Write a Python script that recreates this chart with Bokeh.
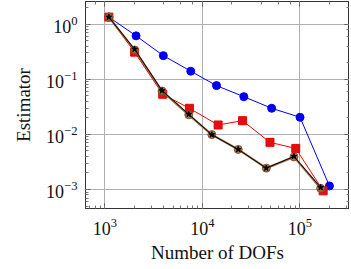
from bokeh.plotting import figure
from bokeh.models import LogAxis, Range1d, LogTicker, CustomJSTickFormatter
from bokeh.embed import file_html
from bokeh.resources import INLINE

# Estimator vs. number of degrees of freedom for four refinement strategies
dofs_uniform = [1100, 2090, 3980, 7600, 13960, 26600, 51300, 100200, 200600]
est_uniform = [1.34, 0.612, 0.268, 0.140, 0.0766, 0.0483, 0.0297, 0.0204, 0.00116]

dofs_adapt_a = [1100, 2020, 3920, 7370, 14500, 25800, 49300, 90600, 173000]
est_adapt_a = [1.34, 0.310, 0.0534, 0.0297, 0.0148, 0.0177, 0.00716, 0.00556, 0.000944]

dofs_adapt_b = [1100, 2020, 3860, 7250, 12500, 23300, 45200, 86900, 163000]
est_adapt_b = [1.34, 0.340, 0.0610, 0.0226, 0.00990, 0.00533, 0.00244, 0.00390, 0.00105]

dofs_adapt_c = [1100, 2020, 3860, 7250, 12500, 23300, 45200, 86900, 163000]
est_adapt_c = [1.34, 0.351, 0.0621, 0.0231, 0.00984, 0.00533, 0.00244, 0.00398, 0.00109]

FONT = "Liberation Serif"

p = figure(frame_width=264, frame_height=207, x_axis_type="log", y_axis_type="log",
           x_range=Range1d(10**2.802, 10**5.508), y_range=Range1d(10**-3.345, 10**0.41),
           output_backend="svg", toolbar_location=None,
           min_border_left=85, min_border_right=0, min_border_top=1, min_border_bottom=61,
           x_axis_label="Number of DOFs", y_axis_label="Estimator")

p.outline_line_color = "#333333"
p.outline_line_width = 1
p.background_fill_color = "white"
p.border_fill_color = "white"

for ax in (p.xaxis[0], p.yaxis[0]):
    ax.axis_label_text_font = FONT
    ax.axis_label_text_font_style = "normal"
    ax.axis_label_text_font_size = "19px"
    ax.axis_label_text_color = "#111111"
    ax.major_label_text_font = FONT
    ax.major_label_text_font_size = "18px"
    ax.major_label_text_color = "#111111"
    ax.major_tick_in = 5
    ax.major_tick_out = 0
    ax.minor_tick_in = 3
    ax.minor_tick_out = 0
    ax.axis_line_color = "#333333"
    ax.major_tick_line_color = "#555555"
    ax.minor_tick_line_color = "#777777"

p.xaxis[0].major_label_standoff = 9
p.xaxis[0].axis_label_standoff = 4
p.yaxis[0].major_label_standoff = 8
p.yaxis[0].axis_label_standoff = 9

# mirrored tick marks on the right and top edges
for side in ("right", "above"):
    extra = LogAxis(ticker=LogTicker(),
                    formatter=CustomJSTickFormatter(code="return ''"),
                    major_label_standoff=0,
                    major_tick_in=5, major_tick_out=0, minor_tick_in=3, minor_tick_out=0,
                    axis_line_color="#333333", major_tick_line_color="#555555",
                    minor_tick_line_color="#777777")
    p.add_layout(extra, side)

p.grid.grid_line_color = "#b0b0b0"
p.grid.grid_line_width = 1

# uniform refinement
p.line(dofs_uniform, est_uniform, color="#0000ff", line_width=1)
p.scatter(dofs_uniform, est_uniform, marker="circle", size=8, fill_color="#0000ee",
          line_color="#0000ff")

# adaptive variant A
p.line(dofs_adapt_a, est_adapt_a, color="#ff0000", line_width=1)
p.scatter(dofs_adapt_a, est_adapt_a, marker="square", size=8, fill_color="#dd1111",
          line_color="#ee0000")

# adaptive variant B
p.line(dofs_adapt_b, est_adapt_b, color="#8b5a2b", line_width=2.2, alpha=0.85)
p.scatter(dofs_adapt_b, est_adapt_b, marker="circle", size=8, fill_color="#9c6b3c",
          line_color="#7a4f25", alpha=0.9)

# adaptive variant C
p.line(dofs_adapt_c, est_adapt_c, color="#000000", line_width=1)
p.scatter(dofs_adapt_c, est_adapt_c, marker="star", size=6, fill_color="#000000",
          line_color="#000000")

open("out.html", "w").write(file_html(p, INLINE))
